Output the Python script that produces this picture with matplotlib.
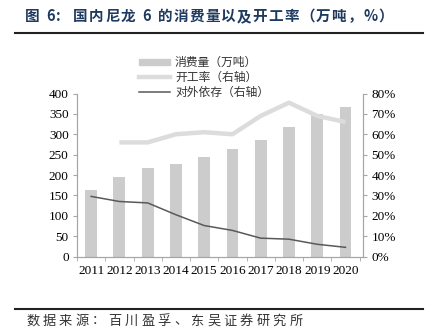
import matplotlib.pyplot as plt
from matplotlib.lines import Line2D
from matplotlib.patches import Patch
import numpy as np

plt.rcParams['font.family'] = ['Liberation Serif', 'Noto Sans CJK SC']

years = ['2011', '2012', '2013', '2014', '2015', '2016', '2017', '2018', '2019', '2020']
consumption = [164, 195, 216, 228, 245, 264, 287, 319, 349, 366]   # 万吨
utilization = [None, 56, 56, 60, 61, 60, 69, 75.5, 69, 66]        # %
dependency = [29.5, 27, 26.3, 20.5, 15.2, 12.8, 9, 8.5, 6, 4.5]   # %

title = '图 6:  国内尼龙 6 的消费量以及开工率（万吨，%）'
source = '数据来源：百川盈孚、东吴证券研究所'

cjk = ['Noto Sans CJK SC', 'DejaVu Sans']
grey = '#a6a6a6'
W, H = 433, 330

fig = plt.figure(figsize=(W / 100, H / 100), dpi=100)
ax = fig.add_axes([77/W, 1-256.5/H, (363-77)/W, 163/H])
ax2 = ax.twinx()

x = np.arange(len(years))
ax.bar(x, consumption, width=0.42, color='#cccccc', zorder=1)

ux = [i for i, v in enumerate(utilization) if v is not None]
uy = [v for v in utilization if v is not None]
ax2.plot(ux, uy, color='#dcdcdc', lw=3.2, solid_capstyle='butt')
ax2.plot(x, dependency, color='#595959', lw=1.1)

ax.set_xlim(-0.5, 9.62)
ax.set_ylim(0, 400)
ax.set_yticks(range(0, 401, 50))
ax2.set_ylim(0, 80)
ax2.set_yticks(range(0, 81, 10))
ax2.set_yticklabels([f'{v}%' for v in range(0, 81, 10)])

ax.set_xticks(x)
ax.set_xticklabels(years)
ax.set_xticks(np.arange(-0.5, 10, 1), minor=True)
ax.tick_params(axis='x', which='major', length=0, pad=6, labelsize=9.5)
ax.tick_params(axis='x', which='minor', length=3, color=grey, direction='out')
ax.tick_params(axis='y', length=3, color=grey, labelsize=9.5, pad=3)
ax2.tick_params(axis='y', length=3, color=grey, labelsize=9.5, pad=3)

for a in (ax, ax2):
    a.spines['top'].set_visible(False)
    for s in ('left', 'right', 'bottom'):
        a.spines[s].set_color(grey)
        a.spines[s].set_linewidth(0.8)

handles = [
    Patch(color='#cccccc'),
    Line2D([], [], color='#dcdcdc', lw=3.2),
    Line2D([], [], color='#595959', lw=1.1),
]
labels = ['消费量（万吨）', '开工率（右轴）', '对外依存（右轴）']
leg = fig.legend(handles, labels, loc='upper left', bbox_to_anchor=(139/W, 1-56/H),
                 frameon=False, prop={'family': cjk, 'size': 8.5},
                 borderpad=0, borderaxespad=0,
                 handlelength=2.6, handleheight=0.45, labelspacing=0.15, handletextpad=0.45)
for t in leg.get_texts():
    t.set_color('#333333')


def tracked_text(x_px, y_px, s, track, **kw):
    # lay the string out one glyph at a time with extra spacing between glyphs
    renderer = fig.canvas.get_renderer()
    cur = x_px
    for ch in s:
        t = fig.text(cur / W, 1 - y_px / H, ch, va='center', ha='left', **kw)
        if ch == ' ':
            cur += kw.get('fontsize', 10) * 1.389 * 0.3 + track
        else:
            cur += t.get_window_extent(renderer).width + track


tracked_text(25, 16, title, 1.2, family=cjk, fontsize=10.5,
             fontweight='bold', color='#1f3a5f')
fig.add_artist(Line2D([15/W, 423/W], [1-33/H, 1-33/H], color='#222222', lw=1.5))
fig.add_artist(Line2D([15/W, 423/W], [1-309/H, 1-309/H], color='#222222', lw=1.5))
tracked_text(26, 321, source, 3.2, family=cjk, fontsize=9.5, color='#333333')

fig.savefig('out.png', dpi=100)
